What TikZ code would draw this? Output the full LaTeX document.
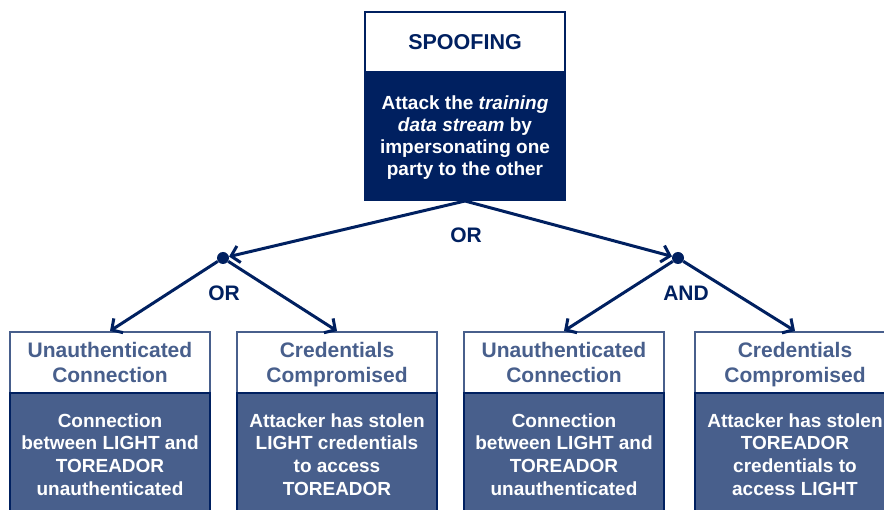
\documentclass[tikz,border=0pt]{standalone}
\usepackage{fontspec}
\setmainfont{Liberation Sans}
\usetikzlibrary{arrows.meta}
\definecolor{navy}{RGB}{0,32,96}
\definecolor{slate}{RGB}{72,95,140}
\newcommand{\myHdrTop}{\rule{0pt}{21pt}}
\newcommand{\myHdrBot}{\rule[-5pt]{0pt}{5pt}}
\newcommand{\myBodTop}{\rule{0pt}{19pt}}
\newcommand{\myBodBot}{\rule[-4.9pt]{0pt}{4.9pt}}
\newcommand{\myTopTop}{\rule{0pt}{18pt}}
\newcommand{\myTopBot}{\rule[-5pt]{0pt}{5pt}}
\begin{document}
\begin{tikzpicture}[x=1pt,y=-1pt,
  tophdr/.style={draw=navy, line width=2pt, fill=white, minimum width=200pt, minimum height=60pt, inner sep=0pt, align=center, text=navy, font=\bfseries\fontsize{21.5}{25}\selectfont},
  topbod/.style={draw=navy, line width=2pt, fill=navy, minimum width=200pt, minimum height=128pt, inner sep=0pt, align=center, text=white, font=\bfseries\fontsize{19}{22.3}\selectfont},
  hdr/.style={draw=slate, line width=2pt, fill=white, minimum width=200pt, minimum height=61pt, inner sep=0pt, align=center, text=slate, font=\bfseries\fontsize{21}{25}\selectfont},
  bod/.style={draw=navy, line width=2pt, fill=slate, minimum width=200pt, minimum height=122pt, inner sep=0pt, align=center, text=white, font=\bfseries\fontsize{19}{22.7}\selectfont},
  dot/.style={circle, fill=navy, minimum size=12pt, inner sep=0pt},
  gate/.style={text=navy, font=\bfseries\fontsize{21}{25}\selectfont, inner sep=0pt},
  arr/.style={draw=navy, line width=3pt, -{Straight Barb[length=8pt,width=17pt]}}
]
\useasboundingbox (0,0) rectangle (884,510);
\clip (0,0) rectangle (884,510);

% top box
\node[tophdr] (th) at (465,42) {SPOOFING};
\node[topbod] (tb) at (465,136) {\myTopTop Attack the \textit{training}\\\textit{data stream} by\\impersonating one\\party to the other\myTopBot};

% bottom boxes
\node[hdr] (h1) at (110,362.5) {\myHdrTop Unauthenticated\\Connection\myHdrBot};
\node[bod] (b1) at (110,454) {\myBodTop Connection\\between LIGHT and\\TOREADOR\\unauthenticated\myBodBot};

\node[hdr] (h2) at (337,362.5) {\myHdrTop Credentials\\Compromised\myHdrBot};
\node[bod] (b2) at (337,454) {\myBodTop Attacker has stolen\\LIGHT credentials\\to access\\TOREADOR\myBodBot};

\node[hdr] (h3) at (564,362.5) {\myHdrTop Unauthenticated\\Connection\myHdrBot};
\node[bod] (b3) at (564,454) {\myBodTop Connection\\between LIGHT and\\TOREADOR\\unauthenticated\myBodBot};

\node[hdr] (h4) at (795,362.5) {\myHdrTop Credentials\\Compromised\myHdrBot};
\node[bod] (b4) at (795,454) {\myBodTop Attacker has stolen\\TOREADOR\\credentials to\\access LIGHT\myBodBot};

% junctions
\node[dot] (dL) at (223,258) {};
\node[dot] (dR) at (678,258) {};

% connectors
\draw[arr] (tb.south) -- (dL);
\draw[arr] (tb.south) -- (dR);
\draw[arr] (dL) -- (h1.north);
\draw[arr] (dL) -- (h2.north);
\draw[arr] (dR) -- (h3.north);
\draw[arr] (dR) -- (h4.north);

% gate labels
\node[gate] (or0) at (466,235) {OR};
\node[gate] (or1) at (224,293) {OR};
\node[gate] (and1) at (686,293) {AND};
\end{tikzpicture}
\end{document}
